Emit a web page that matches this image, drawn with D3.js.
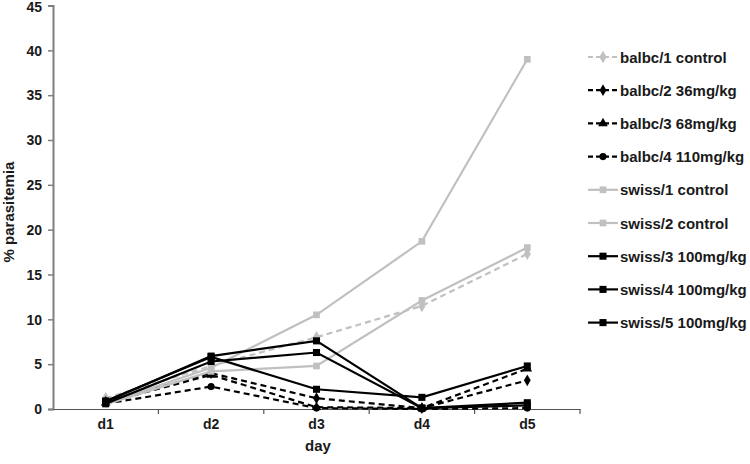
<!DOCTYPE html>
<html>
<head>
<meta charset="utf-8">
<script src="https://cdn.jsdelivr.net/npm/d3@7"></script>
<style>
  body { margin: 0; background: #fff; }
  text { font-family: "Liberation Sans", Arial, sans-serif; font-weight: bold; fill: #1a1a1a; }
</style>
</head>
<body>
<svg id="chart" width="750" height="464"></svg>
<script>
const days = ["d1", "d2", "d3", "d4", "d5"];
const yTicks = [0, 5, 10, 15, 20, 25, 30, 35, 40, 45];
const seriesNames = ["balbc/1 control", "balbc/2 36mg/kg", "balbc/3 68mg/kg", "balbc/4 110mg/kg",
  "swiss/1 control", "swiss/2 control", "swiss/3 100mg/kg", "swiss/4 100mg/kg", "swiss/5 100mg/kg"];
const balbc1 = [1.2, 4.8, 8.0, 11.5, 17.3];
const balbc2 = [0.8, 4.0, 1.2, 0.1, 3.2];
const balbc3 = [0.7, 3.8, 0.2, 0.1, 4.5];
const balbc4 = [0.6, 2.5, 0.1, 0.0, 0.1];
const swiss1 = [0.6, 4.6, 10.5, 18.7, 39.0];
const swiss2 = [0.5, 4.2, 4.8, 12.1, 18.0];
const swiss3 = [0.8, 5.9, 7.6, 0.1, 0.7];
const swiss4 = [0.6, 5.3, 6.3, 0.1, 0.4];
const swiss5 = [0.9, 5.8, 2.2, 1.3, 4.8];
const seriesValues = [balbc1, balbc2, balbc3, balbc4, swiss1, swiss2, swiss3, swiss4, swiss5];

const GRAY = "#c0c0c0", BLACK = "#000";
const styles = [
  {color: GRAY, dash: "6,4", marker: d3.symbolDiamond, size: 45},
  {color: BLACK, dash: "6,4", marker: d3.symbolDiamond, size: 40},
  {color: BLACK, dash: "6,4", marker: d3.symbolTriangle, size: 40},
  {color: BLACK, dash: "6,4", marker: d3.symbolCircle, size: 40},
  {color: GRAY, dash: null, marker: d3.symbolSquare, size: 45},
  {color: GRAY, dash: null, marker: d3.symbolSquare, size: 45},
  {color: BLACK, dash: null, marker: d3.symbolSquare, size: 50},
  {color: BLACK, dash: null, marker: d3.symbolSquare, size: 50},
  {color: BLACK, dash: null, marker: d3.symbolSquare, size: 50}
];

const svg = d3.select("#chart");
const mLeft = 53, mRight = 580, mTop = 5.5, mBottom = 409;

const x = d3.scaleBand().domain(days).range([mLeft, mRight]).padding(0);
const y = d3.scaleLinear().domain([0, 45]).range([mBottom, mTop]);
const cx = d => x(d) + x.bandwidth() / 2;

// Y axis
const yAxis = svg.append("g").attr("transform", `translate(${mLeft},0)`)
  .call(d3.axisLeft(y).tickValues(yTicks).tickSize(5).tickPadding(6));
yAxis.select(".domain").attr("stroke", "#7f7f7f").attr("stroke-width", 2);
yAxis.selectAll(".tick line").attr("stroke", "#7f7f7f").attr("stroke-width", 1.5);
yAxis.selectAll(".tick text").attr("font-size", 14)
  .attr("dy", d => d === 45 ? "0.45em" : "0.34em").style("fill", "#1a1a1a");

// X axis
const xAxis = svg.append("g").attr("transform", `translate(0,${mBottom})`)
  .call(d3.axisBottom(x).tickSize(0).tickPadding(10));
xAxis.select(".domain").attr("stroke", "#555").attr("stroke-width", 1.2);
xAxis.selectAll(".tick text").attr("font-size", 14).style("fill", "#1a1a1a");
const edges = days.map(d => x(d)).concat([mRight]).slice(1);
xAxis.selectAll(".edge").data(edges).enter().append("line")
  .attr("x1", d => d).attr("x2", d => d).attr("y1", 0).attr("y2", 5)
  .attr("stroke", "#555").attr("stroke-width", 1.2);

// Axis titles
svg.append("text").attr("transform", `translate(14,212) rotate(-90)`)
  .attr("text-anchor", "middle").attr("font-size", 15).text("% parasitemia");
svg.append("text").attr("x", 318).attr("y", 451).attr("text-anchor", "middle")
  .attr("font-size", 15).text("day");

// Lines
const line = d3.line().x((v, i) => cx(days[i])).y(v => y(v));
seriesValues.forEach((vals, si) => {
  const s = styles[si];
  const g = svg.append("g");
  g.append("path").attr("d", line(vals)).attr("fill", "none")
    .attr("stroke", s.color).attr("stroke-width", 2.2)
    .attr("stroke-dasharray", s.dash);
  g.selectAll("path.m").data(vals).enter().append("path").attr("class", "m")
    .attr("transform", (v, i) => `translate(${cx(days[i])},${y(v)})`)
    .attr("d", d3.symbol().type(s.marker).size(s.size))
    .attr("fill", s.color);
});

// Legend
const legend = svg.append("g");
seriesNames.forEach((name, i) => {
  const s = styles[i];
  const ly = 57 + i * 33.2;
  const g = legend.append("g").attr("transform", `translate(588,${ly})`);
  g.append("line").attr("x1", 0).attr("x2", 30).attr("y1", 0).attr("y2", 0)
    .attr("stroke", s.color).attr("stroke-width", 2.2).attr("stroke-dasharray", s.dash ? "5,3" : null);
  g.append("path").attr("transform", "translate(15,0)")
    .attr("d", d3.symbol().type(s.marker).size(s.size)).attr("fill", s.color);
  g.append("text").attr("x", 32).attr("y", 5.5).attr("font-size", 15).text(name);
});
</script>
</body>
</html>
